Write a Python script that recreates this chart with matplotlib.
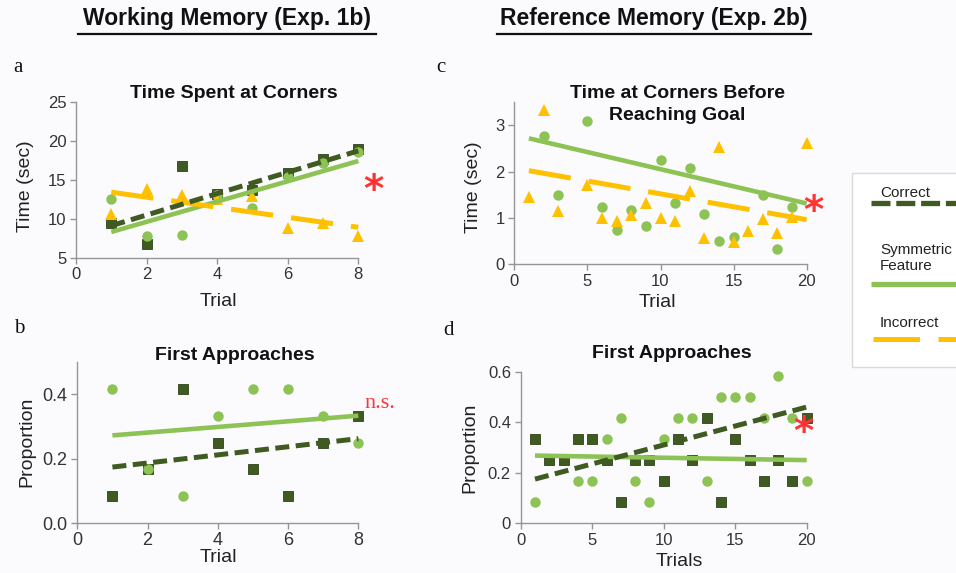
import matplotlib.pyplot as plt
from matplotlib.lines import Line2D
from matplotlib.patches import Rectangle
from matplotlib import font_manager

# ---- data ----
trials_8 = [1, 2, 3, 4, 5, 6, 7, 8]
trials_20 = list(range(1, 21))

# a: time spent at corners (working memory)
a_correct = [9.4, 6.7, 16.7, 13.2, 13.7, 15.8, 17.6, 18.9]
a_symmetric = [12.5, 7.8, 7.9, 13.0, 11.4, 15.3, 17.1, 18.6]
a_incorrect = [10.6, 13.8, 13.0, 12.5, 12.9, 8.8, 9.5, 7.8]
a_fit_x = [1, 8]
a_fit_correct = [9.1, 18.7]
a_fit_symmetric = [8.3, 17.4]
a_fit_incorrect = [13.4, 8.9]

# b: first approaches (working memory)
b_correct = [0.083, 0.167, 0.417, 0.25, 0.167, 0.083, 0.25, 0.333]
b_symmetric = [0.417, 0.167, 0.083, 0.333, 0.417, 0.417, 0.333, 0.25]
b_fit_x = [1, 8]
b_fit_correct = [0.174, 0.262]
b_fit_symmetric = [0.272, 0.333]

# c: time at corners before reaching goal (reference memory)
c_sym_trials = [2, 3, 5, 6, 7, 8, 9, 10, 11, 12, 13, 14, 15, 17, 18, 19]
c_symmetric = [2.77, 1.50, 3.09, 1.24, 0.74, 1.17, 0.83, 2.25, 1.33, 2.08,
               1.08, 0.49, 0.59, 1.49, 0.32, 1.24]
c_inc_trials = [1, 2, 3, 5, 6, 7, 8, 9, 10, 11, 12, 13, 14, 15, 16, 17, 18, 19, 20]
c_incorrect = [1.44, 3.33, 1.15, 1.71, 0.99, 0.94, 1.06, 1.31, 0.99, 0.94,
               1.57, 0.56, 2.54, 0.48, 0.72, 0.97, 0.68, 1.01, 2.61]
c_fit_x = [1, 20]
c_fit_symmetric = [2.72, 1.31]
c_fit_incorrect = [2.02, 0.96]

# d: first approaches (reference memory)
d_correct = [0.333, 0.25, 0.25, 0.333, 0.333, 0.25, 0.083, 0.25, 0.25, 0.167,
             0.333, 0.25, 0.417, 0.083, 0.333, 0.25, 0.167, 0.25, 0.167, 0.417]
d_sym_trials = [1, 4, 5, 6, 7, 8, 9, 10, 11, 12, 13, 14, 15, 16, 17, 18, 19, 20]
d_symmetric = [0.083, 0.167, 0.167, 0.333, 0.417, 0.167, 0.083, 0.333, 0.417, 0.417,
               0.167, 0.5, 0.5, 0.5, 0.417, 0.583, 0.417, 0.167]
d_fit_x = [1, 20]
d_fit_correct = [0.175, 0.46]
d_fit_symmetric = [0.268, 0.25]

legend_labels = ["Correct", "Symmetric\nFeature", "Incorrect"]

# ---- style ----
DARK = '#3f5b22'
LIGHT = '#8dc254'
GOLD = '#ffc000'
RED = '#ff3333'
AXC = '#959595'
TXT = '#333333'
SANS = 'Liberation Sans'
SERIF = 'Liberation Serif'

names = {f.name for f in font_manager.fontManager.ttflist}
if 'Liberation Sans Narrow' in names:
    HEAD, HEAD_SIZE = 'Liberation Sans Narrow', 20.5
else:
    HEAD, HEAD_SIZE = 'Liberation Sans', 16.5

plt.rcParams['font.family'] = [SANS, 'DejaVu Sans']

W, H = 956, 573
fig = plt.figure(figsize=(W / 100, H / 100), dpi=100, facecolor='#fbfbfd')


def fx(x):
    return x / W


def fy(y):
    return 1 - y / H


def make_ax(l, t, r, b, tick_size=12):
    ax = fig.add_axes([fx(l), fy(b), (r - l) / W, (b - t) / H])
    ax.set_facecolor('none')
    for s in ['top', 'right']:
        ax.spines[s].set_visible(False)
    for s in ['left', 'bottom']:
        ax.spines[s].set_color(AXC)
        ax.spines[s].set_linewidth(1.0)
    ax.tick_params(direction='out', length=4, width=1, color=AXC,
                   labelsize=tick_size, labelcolor=TXT, pad=3)
    return ax


def labels(ax, xl, xpos, yl, ypos):
    ax.set_xlabel(xl, fontsize=14, color='#222222', va='center')
    ax.xaxis.set_label_coords(fx(xpos[0]), fy(xpos[1]), transform=fig.transFigure)
    ax.set_ylabel(yl, fontsize=14, color='#222222', va='center')
    ax.yaxis.set_label_coords(fx(ypos[0]), fy(ypos[1]), transform=fig.transFigure)


MS_SQ, MS_O, MS_TRI = 7, 7.5, 8.5
LW = 3.6
DASH_C = (2.8, 1.3)
DASH_I = (8.5, 3.6)


def squares(ax, x, y):
    ax.plot(x, y, 's', color=DARK, ms=MS_SQ, mec='#2f4418', mew=0.6, clip_on=False, zorder=3)


def circles(ax, x, y):
    ax.plot(x, y, 'o', color=LIGHT, ms=MS_O, mew=0, clip_on=False, zorder=4)


def triangles(ax, x, y):
    ax.plot(x, y, '^', color=GOLD, ms=MS_TRI, mew=0, clip_on=False, zorder=5)


def fit(ax, x, y, color, dashes=None, lw=LW):
    ln, = ax.plot(x, y, color=color, lw=lw, solid_capstyle='butt',
                  dash_capstyle='butt', clip_on=False, zorder=6)
    if dashes:
        ln.set_dashes(dashes)


# ---- panel a ----
ax = make_ax(76, 101.7, 358.3, 257.7)
ax.set_xlim(0, 8)
ax.set_ylim(5, 25)
ax.set_xticks([0, 2, 4, 6, 8])
ax.set_yticks([5, 10, 15, 20, 25])
squares(ax, trials_8, a_correct)
circles(ax, trials_8, a_symmetric)
triangles(ax, trials_8, a_incorrect)
fit(ax, a_fit_x, a_fit_symmetric, LIGHT, lw=3.3)
fit(ax, a_fit_x, a_fit_incorrect, GOLD, DASH_I)
fit(ax, a_fit_x, a_fit_correct, DARK, DASH_C)
labels(ax, 'Trial', (218, 302), 'Time (sec)', (26, 186))

# ---- panel b ----
ax = make_ax(77.3, 361.7, 358.3, 523.3, tick_size=13)
ax.set_xlim(0, 8)
ax.set_ylim(0, 0.5)
ax.set_xticks([0, 2, 4, 6, 8])
ax.set_yticks([0.0, 0.2, 0.4])
ax.set_yticklabels(['0.0', '0.2', '0.4'])
ax.tick_params(axis='x', pad=2)
squares(ax, trials_8, b_correct)
circles(ax, trials_8, b_symmetric)
fit(ax, b_fit_x, b_fit_symmetric, LIGHT, lw=3.3)
fit(ax, b_fit_x, b_fit_correct, DARK, DASH_C)
labels(ax, 'Trial', (218, 558), 'Proportion', (27, 442))

# ---- panel c ----
ax = make_ax(514.3, 102.3, 806.7, 264)
ax.set_xlim(0, 20)
ax.set_ylim(0, 3.5)
ax.set_xticks([0, 5, 10, 15, 20])
ax.set_yticks([0, 1, 2, 3])
circles(ax, c_sym_trials, c_symmetric)
triangles(ax, c_inc_trials, c_incorrect)
fit(ax, c_fit_x, c_fit_incorrect, GOLD, DASH_I)
fit(ax, c_fit_x, c_fit_symmetric, LIGHT, lw=3.3)
labels(ax, 'Trial', (657, 303), 'Time (sec)', (474, 187))

# ---- panel d ----
ax = make_ax(520.7, 371.7, 806.7, 523.3)
ax.set_xlim(0, 20)
ax.set_ylim(0, 0.6)
ax.set_xticks([0, 5, 10, 15, 20])
ax.set_yticks([0, 0.2, 0.4, 0.6])
ax.set_yticklabels(['0', '0.2', '0.4', '0.6'])
squares(ax, trials_20, d_correct)
circles(ax, d_sym_trials, d_symmetric)
fit(ax, d_fit_x, d_fit_symmetric, LIGHT, lw=3.3)
fit(ax, d_fit_x, d_fit_correct, DARK, DASH_C)
labels(ax, 'Trials', (679, 561), 'Proportion', (470, 448))

# ---- titles ----
tkw = dict(fontsize=14, fontweight='bold', color='#111111', ha='center', va='center')
fig.text(fx(234), fy(93), 'Time Spent at Corners', **tkw)
fig.text(fx(677), fy(104.5), 'Time at Corners Before\nReaching Goal', linespacing=1.32, **tkw)
fig.text(fx(235), fy(355), 'First Approaches', **tkw)
fig.text(fx(672), fy(353), 'First Approaches', **tkw)

# ---- panel letters ----
for letter, (x, y) in zip('abcd', [(17.5, 72), (19, 333), (441, 72), (449, 335)]):
    fig.text(fx(x), fy(y), letter, family=SERIF, fontsize=15, ha='center',
             va='baseline', color='#111111')

# ---- headers ----
for txt, x0, x1 in [('Working Memory (Exp. 1b)', 78, 376),
                    ('Reference Memory (Exp. 2b)', 497, 811)]:
    fig.text(fx((x0 + x1) / 2), fy(19), txt, family=HEAD, fontsize=HEAD_SIZE,
             fontweight='bold', ha='center', va='center', color='#111111')
    fig.add_artist(Line2D([fx(x0), fx(x1)], [fy(34), fy(34)], color='#111111',
                          lw=1.6, transform=fig.transFigure))

# ---- significance marks ----
for x, y in [(373, 191), (813, 212), (803, 433)]:
    fig.text(fx(x), fy(y), '*', family='DejaVu Sans', fontsize=28, fontweight='bold',
             color=RED, ha='center', va='center')
fig.text(fx(380), fy(403), 'n.s.', family=SERIF, fontsize=16, color=RED,
         ha='center', va='center')

# ---- legend box ----
fig.add_artist(Rectangle((fx(852), fy(367)), fx(130), 194 / H, transform=fig.transFigure,
                         facecolor='white', edgecolor='#d9d9d9', lw=1))
lkw = dict(fontsize=11, color='#222222', ha='left', va='center')
fig.text(fx(880), fy(193), legend_labels[0], **lkw)
fig.text(fx(880), fy(258), legend_labels[1], linespacing=1.2, **lkw)
fig.text(fx(880), fy(323), legend_labels[2], **lkw)
l1 = Line2D([fx(871), fx(970)], [fy(203), fy(203)], color=DARK, lw=3.8,
            transform=fig.transFigure, dash_capstyle='butt')
l1.set_dashes((3.6, 1.1))
l2 = Line2D([fx(871), fx(970)], [fy(284), fy(284)], color=LIGHT, lw=3.8,
            transform=fig.transFigure, solid_capstyle='butt')
l3 = Line2D([fx(873), fx(970)], [fy(339), fy(339)], color=GOLD, lw=3.6,
            transform=fig.transFigure, dash_capstyle='butt')
l3.set_dashes((9.3, 3.7))
for ln in (l1, l2, l3):
    fig.add_artist(ln)

fig.savefig('out.png', dpi=100, facecolor=fig.get_facecolor())
